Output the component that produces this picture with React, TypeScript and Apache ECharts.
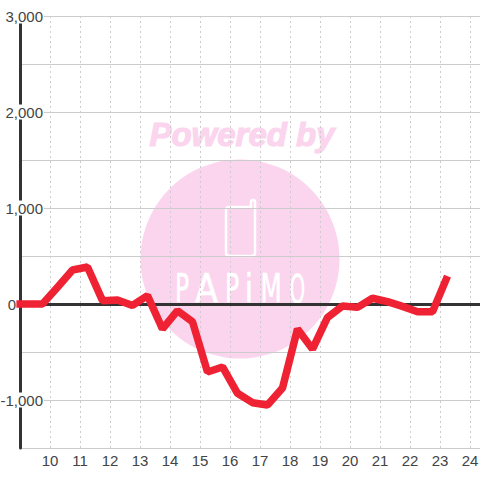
import React, { useEffect, useRef } from "react";
import * as echarts from "echarts";

const hours = [8.88, 9.25, 9.75, 10.25, 10.75, 11.25, 11.75, 12.25, 12.75, 13.25, 13.75, 14.25, 14.75, 15.25, 15.75, 16.25, 16.75, 17.25, 17.75, 18.25, 18.75, 19.25, 19.75, 20.25, 20.75, 21.25, 21.75, 22.25, 22.75, 23.25];
const values = [0, 0, 0, 175, 354, 385, 35, 42, -15, 87, -260, -70, -185, -708, -656, -930, -1028, -1052, -875, -260, -470, -140, -20, -35, 60, 25, -25, -80, -80, 290];
const yLabels: Record<number, string> = { 3000: "3,000", 2000: "2,000", 1000: "1,000", 0: "0", [-1000]: "-1,000" };

const PINK = "#FBD5EE";
const WHITE = "#FFFFFF";
const letters = [
  { t: "P", x: 182, sx: 0.78 },
  { t: "A", x: 206.5, sx: 1.1 },
  { t: "P", x: 232, sx: 0.78 },
  { t: "i", x: 249, sx: 1 },
  { t: "M", x: 271, sx: 0.82 },
  { t: "O", x: 297.5, sx: 0.65 },
];

echarts.graphic.registerShape(
  "phone",
  echarts.graphic.extendPath(
    "M229 207 L251 207 L251 202 Q251 200 253 200 Q255 200 255 202 L255 253 Q255 256 252 256 L229 256 Q226 256 226 253 L226 210 Q226 207 229 207 Z",
    {}
  )
);

export default function App() {
  const ref = useRef<HTMLDivElement>(null);
  useEffect(() => {
    const chart = echarts.init(ref.current!, undefined, { renderer: "svg" });
    const font = "'Liberation Sans', Arial, sans-serif";
    chart.setOption({
      animation: false,
      backgroundColor: "#fff",
      grid: { left: 20, top: 16, width: 460, height: 432, containLabel: false, outerBoundsMode: "none" },
      xAxis: [
        {
          type: "value",
          min: 9,
          max: 24.3333,
          interval: 1,
          axisLine: { show: false, onZero: false },
          axisTick: { show: false },
          axisLabel: {
            color: "#444",
            fontSize: 15,
            fontFamily: font,
            margin: 5,
            showMaxLabel: false,
            showMinLabel: false,
            formatter: (v: number) => String(v),
          },
          splitLine: { show: true, showMinLine: false, showMaxLine: false, lineStyle: { color: "#ccc", type: [2, 3], width: 1 } },
        },
        {
          type: "value",
          min: 9,
          max: 24.3333,
          position: "bottom",
          axisLine: { show: true, onZero: true, lineStyle: { color: "#333", width: 3 } },
          axisTick: { show: false },
          axisLabel: { show: false },
          splitLine: { show: false },
        },
      ],
      yAxis: {
        type: "value",
        min: -1500,
        max: 3000,
        interval: 500,
        axisLine: { show: true, lineStyle: { color: "#333", width: 3 } },
        axisTick: { show: false },
        splitLine: { show: true, lineStyle: { color: "#ccc", width: 1 } },
        axisLabel: {
          inside: true,
          margin: 24,
          align: "right",
          color: "#444",
          fontSize: 15,
          fontFamily: font,
          formatter: (v: number) => {
            const s = yLabels[v];
            if (s === undefined) return "";
            return v === 0 ? `{z|${s}}` : `{b|${s}}`;
          },
          rich: {
            b: { color: "#444", fontSize: 15, fontFamily: font, backgroundColor: "#fff", padding: [0, 1, 0, 1], lineHeight: 16 },
            z: { color: "#444", fontSize: 15, fontFamily: font, padding: [0, 28, 0, 0], lineHeight: 16 },
          },
        },
      },
      graphic: {
        elements: [
          { type: "circle", z: -10, shape: { cx: 240, cy: 259, r: 99.5 }, style: { fill: PINK } },
          {
            type: "text",
            z: -10,
            x: 242,
            y: 134,
            style: {
              text: "Powered by",
              font: `italic bold 33px ${font}`,
              fill: PINK,
              stroke: PINK,
              lineWidth: 1.2,
              align: "center",
              verticalAlign: "middle",
            },
          },
          {
            type: "phone",
            z: -9,
            style: { fill: "none", stroke: WHITE, lineWidth: 2.5 },
          },
          ...letters.map((l) => ({
            type: "text",
            z: -9,
            x: l.x,
            y: 289,
            scaleX: l.sx,
            scaleY: 1.3,
            style: {
              text: l.t,
              font: `30px 'DejaVu Sans', sans-serif`,
              fill: WHITE,
              stroke: WHITE,
              lineWidth: 0.5,
              align: "center",
              verticalAlign: "middle",
            },
          })),
        ],
      },
      series: [
        {
          type: "line",
          xAxisIndex: 0,
          data: hours.map((h, i) => [h, values[i]]),
          showSymbol: false,
          symbol: "none",
          clip: false,
          z: 5,
          lineStyle: { color: "#EE2233", width: 7.5, cap: "butt", join: "bevel" },
        },
      ],
    });
    return () => chart.dispose();
  }, []);
  return <div ref={ref} style={{ position: "fixed", left: 0, top: 0, width: 480, height: 480 }} />;
}
